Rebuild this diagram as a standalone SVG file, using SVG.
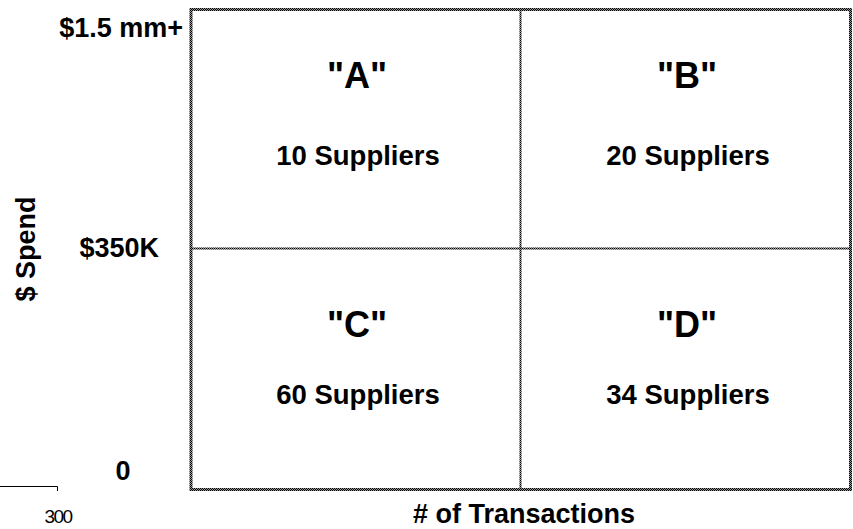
<svg xmlns="http://www.w3.org/2000/svg" width="853" height="529" viewBox="0 0 853 529">
<style>
.ax{font-family:"Liberation Sans",Arial,sans-serif;font-weight:bold;font-size:27px;fill:#000}
.big{font-family:"Liberation Sans",Arial,sans-serif;font-weight:bold;font-size:36px;fill:#000;text-anchor:middle}
.sup{font-family:"Liberation Sans",Arial,sans-serif;font-weight:bold;font-size:27.5px;fill:#000;text-anchor:middle}
.frame{fill:none;stroke:url(#dith)}
</style>
<defs>
<pattern id="dith" width="2" height="2" patternUnits="userSpaceOnUse">
<rect width="2" height="2" fill="#9a9a9a"/>
<rect width="1" height="1" fill="#000"/>
<rect x="1" y="1" width="1" height="1" fill="#000"/>
</pattern>
</defs>
<rect width="853" height="529" fill="#fff"/>
<g id="grid">
<rect class="frame" x="191" y="9.5" width="659.5" height="480" stroke-width="3"/>
<line class="frame" x1="520.5" y1="9" x2="520.5" y2="490" stroke-width="2"/>
<line class="frame" x1="191" y1="248.5" x2="851" y2="248.5" stroke-width="2"/>
</g>
<g id="quadA"><text class="big" x="357" y="88">"A"</text><text class="sup" x="358" y="165">10 Suppliers</text></g>
<g id="quadB"><text class="big" x="687" y="88">"B"</text><text class="sup" x="688" y="165">20 Suppliers</text></g>
<g id="quadC"><text class="big" x="357" y="337">"C"</text><text class="sup" x="358" y="404">60 Suppliers</text></g>
<g id="quadD"><text class="big" x="687" y="337">"D"</text><text class="sup" x="688" y="404">34 Suppliers</text></g>
<g id="axes">
<text class="ax" x="183" y="37" text-anchor="end">$1.5 mm+</text>
<text class="ax" x="159" y="257" text-anchor="end">$350K</text>
<text class="ax" x="123" y="480" text-anchor="middle">0</text>
<text class="ax" transform="translate(35,249) rotate(-90)" text-anchor="middle">$ Spend</text>
<text class="ax" x="524" y="523" text-anchor="middle"># of Transactions</text>
</g>
<g id="scale">
<polyline points="0,486.5 57.5,486.5 57.5,491" fill="none" stroke="#000" stroke-width="1"/>
<text x="58" y="523" text-anchor="middle" font-family="'Liberation Sans',Arial,sans-serif" font-size="19" letter-spacing="-1.5" fill="#000">300</text>
</g>
</svg>
